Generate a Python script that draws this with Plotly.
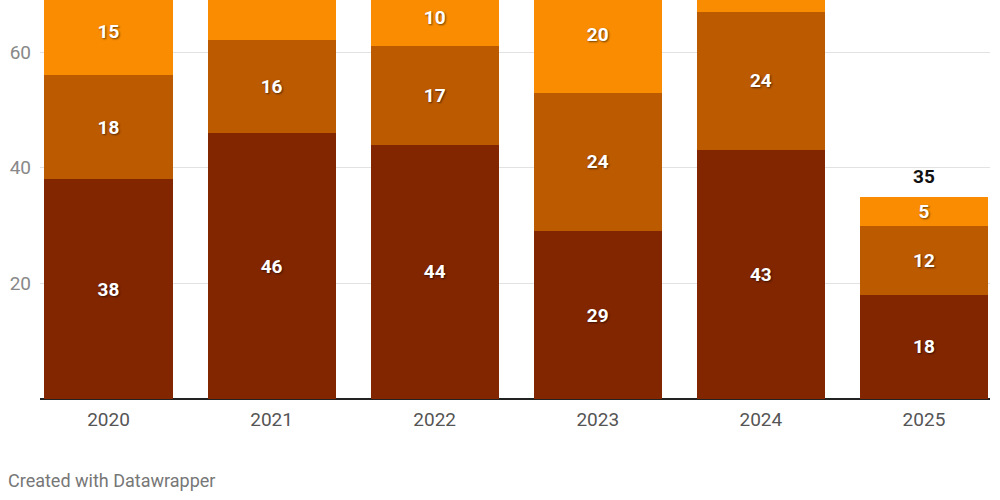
import plotly.graph_objects as go

years = ["2020", "2021", "2022", "2023", "2024", "2025"]
series_a = [38, 46, 44, 29, 43, 18]   # dark
series_b = [18, 16, 17, 24, 24, 12]   # mid
series_c = [15, 20, 10, 20, 12, 5]    # light
totals = [a + b + c for a, b, c in zip(series_a, series_b, series_c)]

colors = ["#822600", "#bc5a00", "#f98c00"]
names = ["A", "B", "C"]

fig = go.Figure()
for vals, col, nm in zip([series_a, series_b, series_c], colors, names):
    fig.add_trace(go.Bar(
        x=years, y=vals, name=nm, marker=dict(color=col, line=dict(width=0)),
        width=0.785,
        text=vals, textposition="inside", insidetextanchor="middle",
        textangle=0, constraintext="none",
        textfont=dict(family="Roboto", size=19, color="white", weight="bold",
                      shadow="1px 1px 2px rgba(0,0,0,0.55)"),
    ))

annotations = []
for i, tot in enumerate(totals):
    if tot <= 66:
        annotations.append(dict(
            x=i, y=tot, text=str(tot), showarrow=False, xref="x", yref="y",
            yanchor="middle", yshift=20,
            font=dict(family="Roboto", size=19, color="#111111", weight="bold"),
        ))

annotations.append(dict(
    text="Created with Datawrapper", xref="paper", yref="paper",
    x=-0.0358, y=-0.2055, xanchor="left", yanchor="middle",
    showarrow=False, font=dict(family="Roboto", size=18, color="#777777"),
))

fig.update_layout(
    barmode="stack",
    width=1000, height=500,
    margin=dict(l=40, r=10, t=0, b=101),
    paper_bgcolor="white", plot_bgcolor="white",
    showlegend=False,
    font=dict(family="Roboto"),
    xaxis=dict(
        type="category",
        range=[-0.42, 5.405], showgrid=False,
        tickfont=dict(family="Roboto", size=19, color="#555555"),
        showline=False, ticks="", ticklabelstandoff=7,
    ),
    yaxis=dict(
        range=[0, 69], tickvals=[20, 40, 60],
        showgrid=True, gridcolor="#e2e2e2", gridwidth=1,
        zeroline=True, zerolinecolor="#222222", zerolinewidth=2,
        tickfont=dict(family="Roboto", size=19, color="#888888"),
        ticks="", ticklabelstandoff=8,
    ),
    annotations=annotations,
)

fig.write_html("out.html", config={"displayModeBar": False},
               post_script="document.body.style.margin='0';document.body.style.overflow='hidden';")
